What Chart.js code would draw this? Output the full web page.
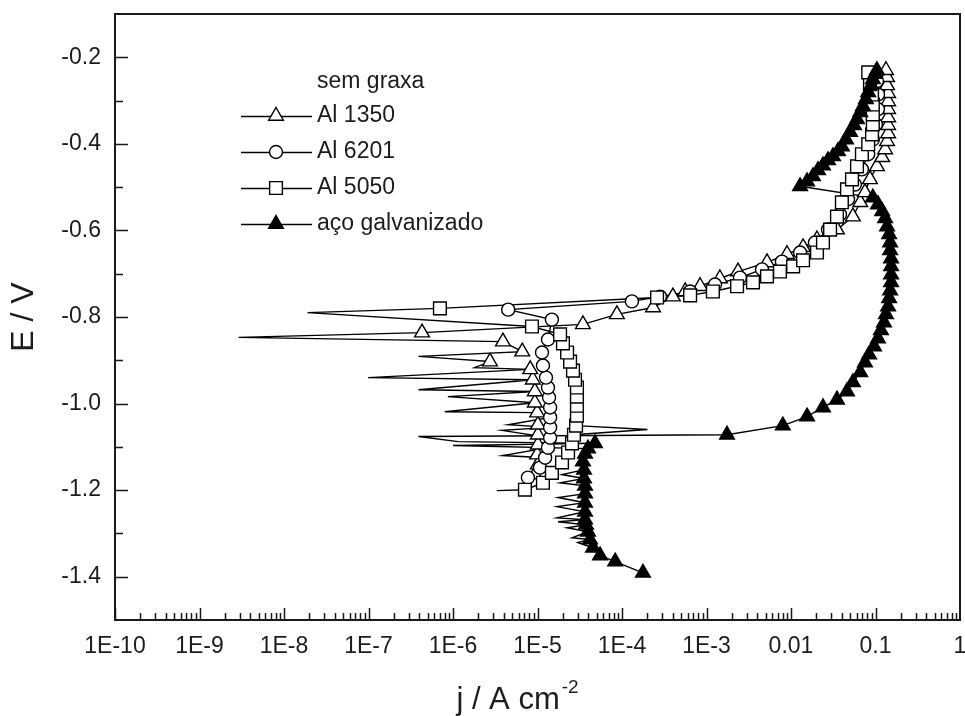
<!DOCTYPE html>
<html>
<head>
<meta charset="utf-8">
<script src="https://cdn.jsdelivr.net/npm/chart.js@4.4.1/dist/chart.umd.min.js"></script>
<style>
html,body{margin:0;padding:0;background:#fff;}
canvas{display:block;}
</style>
</head>
<body>
<canvas id="c" width="965" height="716"></canvas>
<script>
const xTickValues = [1e-10, 1e-9, 1e-8, 1e-7, 1e-6, 1e-5, 1e-4, 1e-3, 1e-2, 1e-1, 1];
const xTickLabels = ['1E-10','1E-9','1E-8','1E-7','1E-6','1E-5','1E-4','1E-3','0.01','0.1','1'];
const yTickValues = [-1.4, -1.2, -1.0, -0.8, -0.6, -0.4, -0.2];
const yTickLabels = ['-1.4','-1.2','-1.0','-0.8','-0.6','-0.4','-0.2'];
const yMinorValues = [-1.3, -1.1, -0.9, -0.7, -0.5, -0.3];
const seriesNames = ['Al 1350', 'Al 6201', 'Al 5050', 'aço galvanizado'];
const legendTitle = 'sem graxa';
const xTitle = 'j / A cm';
const xTitleSup = '-2';
const yTitle = 'E / V';

const al1350J = [9.3e-6,1.01e-5,9.9e-6,1.01e-5,1.01e-5,1.01e-5,9.9e-6,9.3e-6,9.3e-6,8.8e-6,8.2e-6,2.74e-6,6.6e-6,3.9e-6,4.3e-7,
  3.45e-5,8.7e-5,2.33e-4,4.0e-4,5.6e-4,8.4e-4,1.44e-3,2.36e-3,5.2e-3,8.97e-3,1.39e-2,2.03e-2,3.5e-2,5.4e-2,6.6e-2,7.5e-2,8.6e-2,
  0.104,0.12,0.13,0.137,0.141,0.141,0.141,0.141,0.141,0.141,0.137,0.137,0.133];
const al1350E = [-1.164,-1.141,-1.118,-1.095,-1.072,-1.049,-1.021,-0.998,-0.972,-0.945,-0.921,-0.903,-0.880,-0.857,-0.836,
  -0.817,-0.794,-0.778,-0.753,-0.741,-0.729,-0.711,-0.695,-0.674,-0.655,-0.639,-0.621,-0.598,-0.568,-0.535,-0.512,-0.482,
  -0.452,-0.431,-0.413,-0.394,-0.376,-0.357,-0.339,-0.320,-0.302,-0.283,-0.265,-0.246,-0.230];
const al1350NoiseJ = [8.0e-7,8.7e-7,3.9e-7,9.9e-8,1.8e-6,3.9e-7,2.9e-9];
const al1350NoiseE = [-1.019,-0.984,-0.968,-0.940,-0.917,-0.891,-0.847];

const al6201J = [7.7e-6,1.07e-5,1.23e-5,1.33e-5,1.41e-5,1.41e-5,1.41e-5,1.41e-5,1.37e-5,1.33e-5,1.26e-5,1.16e-5,1.13e-5,1.33e-5,1.48e-5,4.5e-6,
  1.31e-4,2.82e-4,6.4e-4,1.26e-3,2.49e-3,4.54e-3,7.8e-3,1.28e-2,1.92e-2,2.74e-2,3.8e-2,4.73e-2,5.7e-2,6.9e-2,8.2e-2,9.3e-2,
  0.101,0.107,0.107,0.104];
const al6201E = [-1.171,-1.148,-1.125,-1.102,-1.079,-1.055,-1.032,-1.009,-0.986,-0.963,-0.940,-0.912,-0.882,-0.852,-0.806,-0.783,
  -0.764,-0.753,-0.741,-0.725,-0.709,-0.690,-0.672,-0.651,-0.628,-0.598,-0.563,-0.528,-0.494,-0.459,-0.424,-0.390,
  -0.355,-0.320,-0.286,-0.255];
const al6201NoiseJ = [3.9e-6,3.8e-6,4.5e-6];
const al6201NoiseE = [-1.120,-1.062,-1.049];

const al5050J = [7.1e-6,1.16e-5,1.48e-5,1.95e-5,2.3e-5,2.56e-5,2.7e-5,2.86e-5,2.93e-5,2.93e-5,2.93e-5,2.93e-5,2.78e-5,2.63e-5,2.43e-5,2.24e-5,2.0e-5,1.85e-5,8.6e-6,7.0e-7,
  2.6e-4,6.4e-4,1.19e-3,2.3e-3,3.55e-3,5.2e-3,7.4e-3,1.06e-2,1.39e-2,2.03e-2,2.39e-2,2.9e-2,3.5e-2,4.0e-2,4.6e-2,5.27e-2,6.04e-2,6.9e-2,
  8.2e-2,9.1e-2,9.3e-2,9.3e-2,9.3e-2,9.1e-2,8.6e-2,8.2e-2];
const al5050E = [-1.199,-1.183,-1.160,-1.136,-1.113,-1.092,-1.072,-1.051,-1.028,-1.005,-0.984,-0.963,-0.945,-0.924,-0.903,-0.882,-0.861,-0.840,-0.822,-0.780,
  -0.755,-0.750,-0.741,-0.729,-0.720,-0.706,-0.695,-0.683,-0.669,-0.651,-0.628,-0.598,-0.568,-0.535,-0.505,-0.482,-0.452,-0.424,
  -0.401,-0.378,-0.355,-0.332,-0.309,-0.286,-0.262,-0.235];
const al5050NoiseJ = [3.3e-6,2.0e-4,1.9e-8];
const al5050NoiseE = [-1.201,-1.060,-0.790];

const galvJ = [1.77e-4,8.3e-5,5.5e-5,4.54e-5,4.18e-5,3.96e-5,3.75e-5,3.65e-5,3.65e-5,3.65e-5,3.65e-5,3.65e-5,3.55e-5,3.55e-5,3.45e-5,3.65e-5,3.96e-5,4.79e-5,
  1.75e-3,8.0e-3,1.55e-2,2.39e-2,3.5e-2,4.6e-2,5.4e-2,6.6e-2,7.5e-2,8.4e-2,9.6e-2,0.107,0.116,0.126,0.133,0.141,0.145,0.149,0.153,0.153,0.153,0.153,
  0.149,0.149,0.145,0.137,0.13,0.12,0.107,9.3e-2,
  1.28e-2,1.55e-2,1.82e-2,2.09e-2,2.39e-2,2.74e-2,3.14e-2,3.6e-2,4.0e-2,4.48e-2,5.0e-2,5.57e-2,6.04e-2,6.6e-2,7.1e-2,7.7e-2,8.2e-2,8.9e-2,9.3e-2,9.9e-2,0.104];
const galvE = [-1.391,-1.365,-1.351,-1.333,-1.314,-1.296,-1.280,-1.268,-1.250,-1.229,-1.208,-1.190,-1.173,-1.153,-1.134,-1.116,-1.104,-1.092,
  -1.072,-1.051,-1.030,-1.009,-0.991,-0.972,-0.951,-0.928,-0.905,-0.887,-0.868,-0.850,-0.831,-0.813,-0.794,-0.776,-0.757,-0.739,-0.720,-0.702,-0.683,-0.665,
  -0.646,-0.628,-0.609,-0.591,-0.572,-0.556,-0.540,-0.524,
  -0.498,-0.487,-0.475,-0.461,-0.450,-0.438,-0.429,-0.417,-0.406,-0.390,-0.373,-0.357,-0.343,-0.327,-0.313,-0.297,-0.281,-0.265,-0.251,-0.239,-0.230];
const galvNoiseJ = [3.0e-5,2.56e-5,2.24e-5,1.75e-5,1.70e-5,1.70e-5,1.75e-5,1.85e-5,1.95e-5,1.0e-6,1.15e-6,3.9e-7];
const galvNoiseE = [-1.321,-1.310,-1.287,-1.273,-1.264,-1.238,-1.217,-1.183,-1.164,-1.097,-1.088,-1.076];

function pts(J, E) { return J.map((j, i) => ({x: j, y: E[i]})); }
function trace(J, E, NJ, NE) {
  return pts(J, E).concat(pts(NJ, NE)).sort((a, b) => a.y - b.y);
}
const styles = [
  {shape: 'triangle', r: 8.5, fill: '#ffffff'},
  {shape: 'circle',   r: 6.5, fill: '#ffffff'},
  {shape: 'rect',     r: 9,   fill: '#ffffff'},
  {shape: 'triangle', r: 8.5, fill: '#000000'}
];
const seriesData = [
  [al1350J, al1350E, al1350NoiseJ, al1350NoiseE],
  [al6201J, al6201E, al6201NoiseJ, al6201NoiseE],
  [al5050J, al5050E, al5050NoiseJ, al5050NoiseE],
  [galvJ, galvE, galvNoiseJ, galvNoiseE]
];
const datasets = [];
seriesData.forEach((s, i) => {
  datasets.push({
    label: seriesNames[i] + ' line', data: trace(s[0], s[1], s[2], s[3]),
    showLine: true, borderColor: '#000', borderWidth: 1.4, pointRadius: 0,
    tension: 0, fill: false, order: 20 + i
  });
  datasets.push({
    label: seriesNames[i], data: pts(s[0], s[1]), showLine: false,
    pointStyle: styles[i].shape, pointRadius: styles[i].r, pointHoverRadius: styles[i].r,
    pointBackgroundColor: styles[i].fill, pointBorderColor: '#000', pointBorderWidth: 1.4,
    order: 10 - i
  });
});

const FONT = '"Liberation Sans", Arial, Helvetica, sans-serif';
const TXT = '#1c1c1c';
const noPad = () => ({left: 0, right: 0, top: 0, bottom: 0});

function drawMarker(ctx, st, x, y) {
  ctx.beginPath();
  if (st.shape === 'triangle') {
    ctx.moveTo(x, y - st.r);
    ctx.lineTo(x + st.r * 0.866, y + st.r / 2);
    ctx.lineTo(x - st.r * 0.866, y + st.r / 2);
    ctx.closePath();
  } else if (st.shape === 'circle') {
    ctx.arc(x, y, st.r, 0, Math.PI * 2);
  } else {
    const h = st.r * Math.SQRT1_2;
    ctx.rect(x - h, y - h, 2 * h, 2 * h);
  }
  ctx.fillStyle = st.fill; ctx.fill();
  ctx.lineWidth = 1.4; ctx.strokeStyle = '#000'; ctx.stroke();
}

const decorPlugin = {
  id: 'decor',
  afterDatasetsDraw(chart) {
    const {ctx, chartArea: a, scales} = chart;
    const xs = scales.x, ys = scales.y;
    ctx.save();
    ctx.strokeStyle = '#1a1a1a';
    ctx.lineWidth = 2;
    ctx.strokeRect(a.left, a.top, a.right - a.left, a.bottom - a.top);
    ctx.lineWidth = 1.5;
    ctx.beginPath();
    for (let d = -10; d < 0; d++) {
      for (let m = 1; m <= 9; m++) {
        const px = Math.round(xs.getPixelForValue(m * Math.pow(10, d))) + 0.5;
        const len = m === 1 ? 12 : 7;
        ctx.moveTo(px, a.bottom); ctx.lineTo(px, a.bottom - len);
      }
    }
    yTickValues.forEach(v => {
      const py = Math.round(ys.getPixelForValue(v)) + 0.5;
      ctx.moveTo(a.left, py); ctx.lineTo(a.left + 13, py);
    });
    yMinorValues.forEach(v => {
      const py = Math.round(ys.getPixelForValue(v)) + 0.5;
      ctx.moveTo(a.left, py); ctx.lineTo(a.left + 8, py);
    });
    ctx.stroke();
    ctx.restore();
  },
  afterDraw(chart) {
    const {ctx, chartArea: a} = chart;
    ctx.save();
    ctx.fillStyle = TXT;
    ctx.font = '32px ' + FONT;
    ctx.textAlign = 'center'; ctx.textBaseline = 'middle';
    ctx.translate(24, (a.top + a.bottom) / 2);
    ctx.rotate(-Math.PI / 2);
    ctx.fillText(yTitle, 0, 0);
    ctx.setTransform(1, 0, 0, 1, 0, 0);
    ctx.font = '31px ' + FONT;
    const w1 = ctx.measureText(xTitle).width;
    ctx.font = '19px ' + FONT;
    const w2 = ctx.measureText(xTitleSup).width;
    const cx = (a.left + a.right) / 2 - 20;
    const x0 = cx - (w1 + w2 + 2) / 2;
    ctx.textAlign = 'left'; ctx.textBaseline = 'alphabetic';
    ctx.font = '31px ' + FONT;
    ctx.fillText(xTitle, x0, 709);
    ctx.font = '19px ' + FONT;
    ctx.fillText(xTitleSup, x0 + w1 + 2, 693);
    ctx.font = '23px ' + FONT;
    ctx.textBaseline = 'middle';
    const lx = a.left + 126;
    ctx.fillText(legendTitle, lx + 76, 82);
    seriesNames.forEach((name, i) => {
      const y = 116 + i * 36;
      ctx.beginPath();
      ctx.moveTo(lx, y + 0.5); ctx.lineTo(lx + 71, y + 0.5);
      ctx.lineWidth = 1.5; ctx.strokeStyle = '#000'; ctx.stroke();
      drawMarker(ctx, styles[i], lx + 35, y);
      ctx.fillStyle = TXT;
      ctx.fillText(name, lx + 76, y);
    });
    ctx.restore();
  }
};

new Chart(document.getElementById('c'), {
  type: 'scatter',
  data: {datasets},
  options: {
    responsive: false,
    animation: false,
    devicePixelRatio: 1,
    layout: {autoPadding: false, padding: {left: 0, right: 5, top: 14, bottom: 0}},
    plugins: {legend: {display: false}, tooltip: {enabled: false}},
    events: [],
    scales: {
      x: {
        type: 'logarithmic', position: 'bottom', min: 1e-10, max: 1,
        grid: {display: false, drawTicks: false}, border: {display: false},
        ticks: {
          autoSkip: false, maxRotation: 0, minRotation: 0, padding: 13,
          color: TXT, font: {family: FONT, size: 23},
          callback: (v, i) => xTickLabels[i]
        },
        afterBuildTicks: s => { s.ticks = xTickValues.map(v => ({value: v})); },
        afterFit: s => { s.height = 96; s.paddingLeft = 0; s.paddingRight = 0; s.getPadding = noPad; }
      },
      y: {
        type: 'linear', position: 'left', min: -1.5, max: -0.1,
        grid: {display: false, drawTicks: false}, border: {display: false},
        ticks: {
          padding: 14, color: TXT, font: {family: FONT, size: 23},
          callback: (v, i) => yTickLabels[i]
        },
        afterBuildTicks: s => { s.ticks = yTickValues.map(v => ({value: v})); },
        afterFit: s => { s.width = 115; s.paddingTop = 0; s.paddingBottom = 0; s.getPadding = noPad; }
      }
    }
  },
  plugins: [decorPlugin]
});
</script>
</body>
</html>
